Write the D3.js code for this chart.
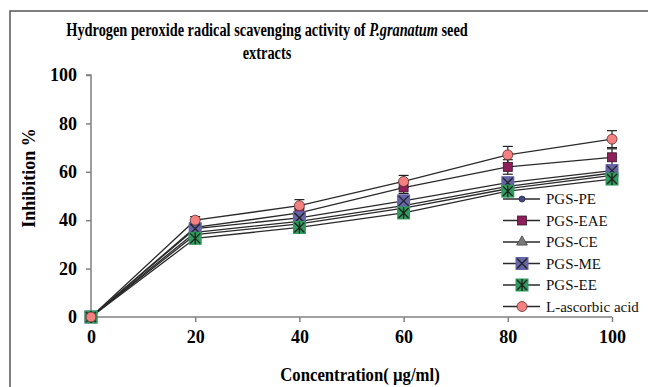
<!DOCTYPE html>
<html>
<head>
<meta charset="utf-8">
<script src="https://cdn.jsdelivr.net/npm/d3@7"></script>
<style>
  body { margin: 0; background: #fff; }
  svg { display: block; font-family: "Liberation Serif", "Times New Roman", serif; }
</style>
</head>
<body>
<div id="chart"></div>
<script>
// data
const concentrations = [0, 20, 40, 60, 80, 100];
const seriesNames = ['PGS-PE', 'PGS-EAE', 'PGS-CE', 'PGS-ME', 'PGS-EE', 'L-ascorbic acid'];
const pePE  = [0, 35, 39.5, 46, 54, 59.5];
const peEAE = [0, 37, 43, 53.5, 62, 66];
const peCE  = [0, 34, 38.5, 45, 53, 58.5];
const peME  = [0, 36.5, 41, 48, 55.5, 60.5];
const peEE  = [0, 32.5, 37, 43, 52, 57];
const ascorbic = [0, 40, 46, 56, 67, 73.5];
const errEAE = [0, 1.5, 2, 2.5, 3, 3.5];
const errAsc = [0, 1.5, 2.5, 2.5, 3.5, 3.5];
const yTicks = [0, 20, 40, 60, 80, 100];

const W = 648, H = 387;
const svg = d3.select('#chart').append('svg').attr('width', W).attr('height', H);

// outer frame
svg.append('rect').attr('x', 10).attr('y', 11).attr('width', 700).attr('height', 500)
  .attr('fill', 'none').attr('stroke', '#555').attr('stroke-width', 1.5);

const x = d3.scaleLinear().domain([0, 100]).range([91, 612]);
const y = d3.scaleLinear().domain([0, 100]).range([317, 75]);

// axes
const yAxis = svg.append('g').attr('transform', 'translate(91,0)')
  .call(d3.axisLeft(y).tickValues(yTicks).tickSize(5).tickPadding(9));
const xAxis = svg.append('g').attr('transform', 'translate(0,317)')
  .call(d3.axisBottom(x).tickValues(concentrations).tickSize(5).tickPadding(8));
[yAxis, xAxis].forEach(a => {
  a.attr('font-family', '"Liberation Serif", serif');
  a.select('.domain').attr('stroke', '#808080').attr('stroke-width', 1.5);
  a.selectAll('.tick line').attr('stroke', '#808080').attr('stroke-width', 1.5);
  a.selectAll('text').attr('fill', '#000').style('font-size', '18px')
    .style('font-weight', 'bold').style('font-family', '"Liberation Serif", serif');
});
yAxis.select('.domain').attr('d', 'M-5,75H0V317');
xAxis.select('.domain').attr('d', 'M91,0H612');

const series = [
  { name: seriesNames[0], vals: pePE, err: null, mark: 'dot', fill: '#45477f' },
  { name: seriesNames[1], vals: peEAE, err: errEAE, mark: 'sq', fill: '#8e1f5a' },
  { name: seriesNames[2], vals: peCE, err: null, mark: 'tri', fill: '#7a7a7a' },
  { name: seriesNames[3], vals: peME, err: null, mark: 'bigx', fill: '#6464a8' },
  { name: seriesNames[4], vals: peEE, err: null, mark: 'star', fill: '#2f9a5c' },
  { name: seriesNames[5], vals: ascorbic, err: errAsc, mark: 'circ', fill: '#f48080' }
];

const line = d3.line().x((d, i) => x(concentrations[i])).y(d => y(d));

function drawMarker(g, mark, fill) {
  if (mark === 'dot') {
    g.append('circle').attr('r', 3).attr('fill', fill).attr('stroke', '#2a2a5a').attr('stroke-width', 0.8);
  } else if (mark === 'sq') {
    g.append('rect').attr('x', -4.5).attr('y', -4.5).attr('width', 9).attr('height', 9)
      .attr('fill', fill).attr('stroke', '#3a1a2a').attr('stroke-width', 0.8);
  } else if (mark === 'tri') {
    g.append('path').attr('d', d3.symbol(d3.symbolTriangle, 50)()).attr('fill', fill)
      .attr('stroke', '#444').attr('stroke-width', 0.8);
  } else if (mark === 'bigx') {
    g.append('rect').attr('x', -6.5).attr('y', -6.5).attr('width', 13).attr('height', 13).attr('fill', fill);
    g.append('path').attr('d', 'M-5,-5L5,5M-5,5L5,-5').attr('stroke', '#222').attr('stroke-width', 1.3);
  } else if (mark === 'star') {
    g.append('rect').attr('x', -6.5).attr('y', -6.5).attr('width', 13).attr('height', 13).attr('fill', fill);
    g.append('path').attr('d', 'M-5,-5L5,5M-5,5L5,-5M0,-6V6').attr('stroke', '#222').attr('stroke-width', 1.3);
  } else if (mark === 'circ') {
    g.append('circle').attr('r', 5).attr('fill', fill).attr('stroke', '#5a2a2a').attr('stroke-width', 0.8);
  }
}

// lines
series.forEach(s => {
  svg.append('path').datum(s.vals).attr('d', line)
    .attr('fill', 'none').attr('stroke', '#2a2a2a').attr('stroke-width', 1.3);
});

// error bars
series.forEach(s => {
  if (!s.err) return;
  s.vals.forEach((v, i) => {
    if (!s.err[i]) return;
    const cx = x(concentrations[i]);
    const g = svg.append('g').attr('stroke', '#222').attr('stroke-width', 1.2);
    g.append('line').attr('x1', cx).attr('x2', cx).attr('y1', y(v - s.err[i])).attr('y2', y(v + s.err[i]));
    g.append('line').attr('x1', cx - 5).attr('x2', cx + 5).attr('y1', y(v + s.err[i])).attr('y2', y(v + s.err[i]));
    g.append('line').attr('x1', cx - 5).attr('x2', cx + 5).attr('y1', y(v - s.err[i])).attr('y2', y(v - s.err[i]));
  });
});

// markers
series.forEach(s => {
  s.vals.forEach((v, i) => {
    const g = svg.append('g').attr('transform', `translate(${x(concentrations[i])},${y(v)})`);
    drawMarker(g, s.mark, s.fill);
  });
});

// legend
const legend = svg.append('g').attr('transform', 'translate(503,199)');
series.forEach((s, i) => {
  const g = legend.append('g').attr('transform', `translate(0,${i * 21.5})`);
  g.append('line').attr('x1', 0).attr('x2', 37).attr('stroke', '#2a2a2a').attr('stroke-width', 1.3);
  drawMarker(g.append('g').attr('transform', 'translate(19,0)'), s.mark, s.fill);
  g.append('text').attr('x', 43).attr('y', 5).style('font-size', '15px').attr('fill', '#111').text(s.name);
});

// titles (the original font is a condensed Times, so squeeze horizontally)
const tg = svg.append('g').attr('transform', 'translate(267,0) scale(0.755,1)');
const title = tg.append('text').attr('x', 0).attr('y', 36).attr('text-anchor', 'middle')
  .style('font-size', '19px').style('font-weight', 'bold');
title.append('tspan').text('Hydrogen peroxide radical scavenging activity of ');
title.append('tspan').style('font-style', 'italic').text('P.granatum');
title.append('tspan').text(' seed');
tg.append('text').attr('x', 0).attr('y', 59).attr('text-anchor', 'middle')
  .style('font-size', '19px').style('font-weight', 'bold').text('extracts');

svg.append('g').attr('transform', 'translate(360,0) scale(0.88,1)')
  .append('text').attr('x', 0).attr('y', 381).attr('text-anchor', 'middle')
  .style('font-size', '19px').style('font-weight', 'bold').text('Concentration( µg/ml)');
svg.append('text').attr('transform', 'translate(35,178) rotate(-90)').attr('text-anchor', 'middle')
  .style('font-size', '18px').style('font-weight', 'bold').text('Inhibition %');
</script>
</body>
</html>
